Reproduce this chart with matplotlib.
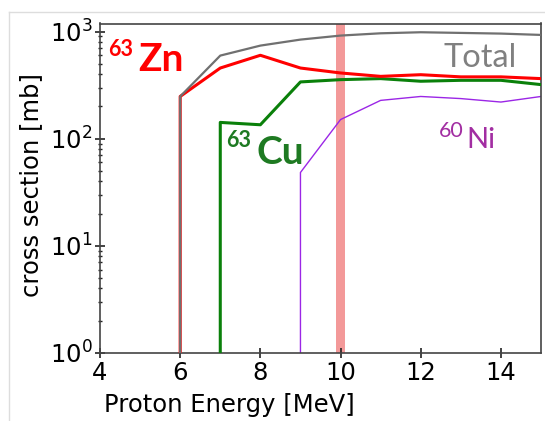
import matplotlib
matplotlib.use("Agg")
import matplotlib.pyplot as plt
from matplotlib.lines import Line2D

# proton energies [MeV] and cross sections [mb]; the repeated first energy
# with a zero value marks the reaction threshold
e_total = [6, 6, 7, 8, 9, 10, 11, 12, 13, 14, 15]
s_total = [0, 248, 597, 740, 842, 918, 964, 986, 972, 958, 931]

e_zn = [6, 6, 7, 8, 9, 10, 11, 12, 13, 14, 15]
s_zn = [0, 248, 457, 601, 457, 411, 382, 396, 378, 378, 364]

e_cu = [7, 7, 8, 9, 10, 11, 12, 13, 14, 15]
s_cu = [0, 142, 135, 339, 356, 364, 344, 351, 351, 320]

e_ni = [9, 9, 10, 11, 12, 13, 14, 15]
s_ni = [0, 48.4, 151, 228, 248, 237, 220, 248]

beam_energy = 10.0
beam_halfwidth = 0.12

W, H = 545, 421
fig = plt.figure(figsize=(W / 100, H / 100), dpi=100)
ax = fig.add_axes([100 / W, 1 - 353 / H, 441 / W, 329.5 / H])

ax.axvspan(beam_energy - beam_halfwidth, beam_energy + beam_halfwidth,
           color="lightcoral", alpha=0.8, lw=0, zorder=1)

ax.plot(e_ni, s_ni, color="#9b26e6", lw=1.0, zorder=2)
ax.plot(e_cu, s_cu, color="#0a800a", lw=2.2, zorder=3)
ax.plot(e_zn, s_zn, color="#ff0000", lw=2.2, zorder=4)
ax.plot(e_total, s_total, color="#707070", lw=1.6, zorder=5)

ax.set_yscale("log", nonpositive="clip")
ax.set_xlim(4, 15)
ax.set_ylim(1, 1190)
ax.set_xticks([4, 6, 8, 10, 12, 14])

for sp in ax.spines.values():
    sp.set_color("#444444")
    sp.set_linewidth(1.2)
ax.tick_params(which="major", direction="inout", length=7, width=1.2,
               labelsize=17.5, color="#222222", pad=2)
ax.tick_params(which="minor", direction="inout", length=3.5, width=1.0,
               color="#222222")

ax.set_xlabel("Proton Energy [MeV]", fontsize=17.5)
ax.xaxis.set_label_coords((229 - 100) / 441, -0.12)
ax.set_ylabel("cross section [mb]", fontsize=17.5)
ax.yaxis.set_label_coords(-0.13, 0.51)


def put(px, py, s, **kw):
    fig.text(px / W, 1 - py / H, s, va="baseline", ha="left",
             family=["Lato", "DejaVu Sans"], **kw)


# isotope labels
put(108, 56, "63", color="#ff0000", fontsize=15.5, fontweight="bold")
put(138, 71, "Zn", color="#ff0000", fontsize=28, fontweight="bold")
put(226, 147, "63", color="#1e7a22", fontsize=15.5, fontweight="bold")
put(256, 164, "Cu", color="#1e7a22", fontsize=28, fontweight="bold")
put(444, 67, "Total", color="#808080", fontsize=23.5)
put(439, 137, "60", color="#a22ea2", fontsize=15.5)
put(466, 148, "Ni", color="#a22ea2", fontsize=21)

# light frame along the top and left
fig.add_artist(Line2D([9 / W, 1], [1 - 12 / H, 1 - 12 / H],
                      color="#dddddd", lw=1))
fig.add_artist(Line2D([9 / W, 9 / W], [0, 1 - 12 / H],
                      color="#dddddd", lw=1))

fig.savefig("out.png", dpi=100)
